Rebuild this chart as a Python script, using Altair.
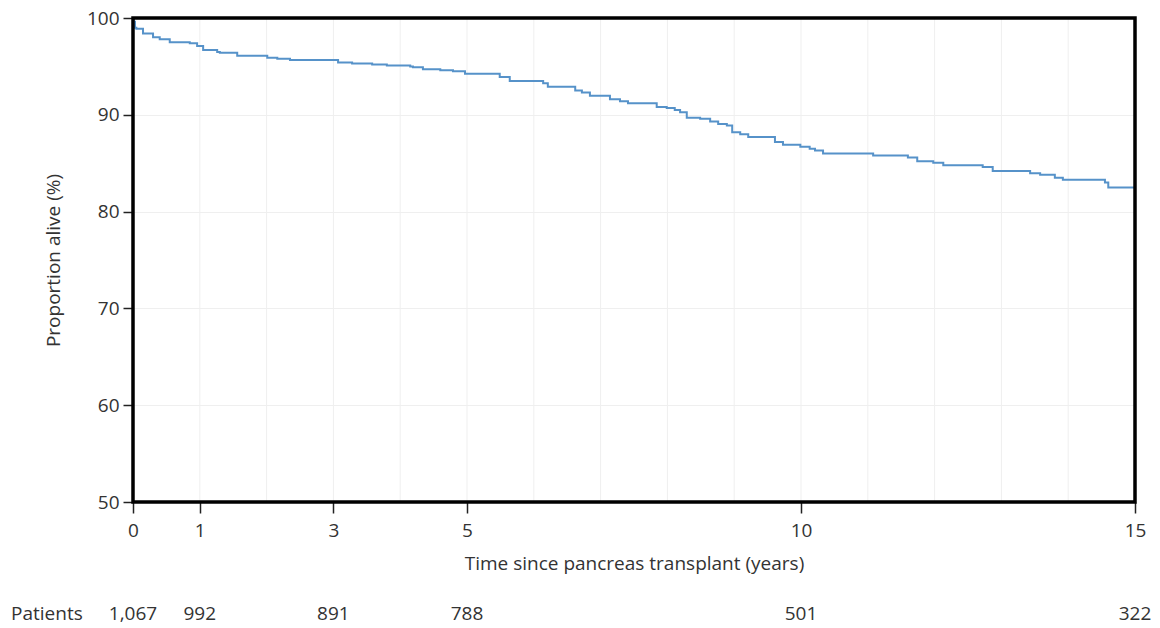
import altair as alt
import pandas as pd

# Kaplan-Meier style survival curve (years, % alive)
years = [0.0, 0.01, 0.03, 0.05, 0.15, 0.30, 0.40, 0.55, 0.85, 0.96, 1.05, 1.26, 1.30, 1.56,
         2.01, 2.16, 2.35, 3.07, 3.28, 3.58, 3.80, 4.15, 4.19, 4.34, 4.60, 4.79, 4.97,
         5.49, 5.64, 6.14, 6.21, 6.62, 6.72, 6.84, 7.14, 7.29, 7.41, 7.84, 7.99, 8.11,
         8.19, 8.29, 8.49, 8.64, 8.76, 8.89, 8.97, 9.09, 9.21, 9.61, 9.73, 9.99, 10.13,
         10.21, 10.33, 11.08, 11.60, 11.74, 11.98, 12.13, 12.72, 12.87, 13.43, 13.58,
         13.80, 13.92, 14.55, 14.60, 15.0]
alive = [100.0, 99.6, 99.0, 98.9, 98.4, 98.0, 97.8, 97.5, 97.4, 97.1, 96.7, 96.5, 96.4, 96.1,
         95.9, 95.8, 95.65, 95.4, 95.3, 95.2, 95.1, 95.0, 94.9, 94.7, 94.6, 94.5, 94.25,
         93.9, 93.5, 93.25, 92.9, 92.5, 92.3, 91.97, 91.6, 91.4, 91.2, 90.8, 90.7, 90.5,
         90.26, 89.7, 89.6, 89.3, 89.05, 88.9, 88.2, 88.0, 87.7, 87.2, 86.9, 86.7, 86.5,
         86.3, 86.0, 85.8, 85.6, 85.2, 85.05, 84.8, 84.6, 84.2, 83.95, 83.8,
         83.5, 83.3, 83.0, 82.5, 82.5]

x_ticks = [0, 1, 3, 5, 10, 15]
y_ticks = [50, 60, 70, 80, 90, 100]
grid_years = list(range(1, 15))
risk_years = [0, 1, 3, 5, 10, 15]
risk_counts = ["1,067", "992", "891", "788", "501", "322"]

FONT = "Open Sans"
FS = 19
TXT = "#333333"
W, H = 1002, 484

curve = pd.DataFrame({"t": years, "p": alive})
grid = pd.DataFrame({"t": grid_years})
risk = pd.DataFrame({"t": risk_years, "n": risk_counts})

xscale = alt.Scale(domain=[0, 15], nice=False, zero=False)
yscale = alt.Scale(domain=[50, 100], nice=False, zero=False)

gridlayer = alt.Chart(grid).mark_rule(color="#efefef", strokeWidth=1).encode(
    x=alt.X("t:Q", scale=xscale)
)

line = alt.Chart(curve).mark_line(interpolate="step-after", color="#5692c9", strokeWidth=2).encode(
    x=alt.X("t:Q", scale=xscale,
            axis=alt.Axis(values=x_ticks, format="d", grid=False, domain=False,
                          tickSize=11, tickWidth=1.5, tickColor="#222", labelFlush=False,
                          labelFont=FONT, labelFontSize=FS, labelColor=TXT, labelPadding=8,
                          title="Time since pancreas transplant (years)",
                          titleFont=FONT, titleFontSize=FS, titleFontWeight="normal",
                          titleColor=TXT, titleY=61, titleBaseline="middle")),
    y=alt.Y("p:Q", scale=yscale,
            axis=alt.Axis(values=y_ticks, grid=True, gridColor="#efefef", labelFlush=False,
                          domain=False, tickSize=10, tickWidth=1.5, tickColor="#222",
                          labelFont=FONT, labelFontSize=FS, labelColor=TXT, labelPadding=4,
                          title="Proportion alive (%)", titleFont=FONT, titleFontSize=FS,
                          titleFontWeight="normal", titleColor=TXT,
                          titleX=-80, titleY=H / 2, titleBaseline="middle", titleAngle=-90)),
)

frame = alt.Chart(pd.DataFrame({"f": [1]})).mark_rect(
    fill=None, stroke="black", strokeWidth=3.5
).encode(x=alt.value(0), x2=alt.value(W), y=alt.value(0), y2=alt.value(H))

risk_text = alt.Chart(risk).mark_text(font=FONT, fontSize=FS, color=TXT, baseline="middle").encode(
    x=alt.X("t:Q", scale=xscale),
    y=alt.value(596),
    text="n:N",
)

patients_label = alt.Chart(pd.DataFrame({"lab": ["Patients"]})).mark_text(
    font=FONT, fontSize=FS, color=TXT, align="left", baseline="middle"
).encode(x=alt.value(-122), y=alt.value(596), text="lab:N")

chart = alt.layer(gridlayer, line, frame, risk_text, patients_label).properties(
    width=W, height=H,
    autosize=alt.AutoSizeParams(type="none"),
    padding={"left": 133, "top": 18, "right": 25, "bottom": 126},
    background="white",
).configure_view(stroke=None)

chart.save("out.html", embed_options={"renderer": "svg", "actions": False})
